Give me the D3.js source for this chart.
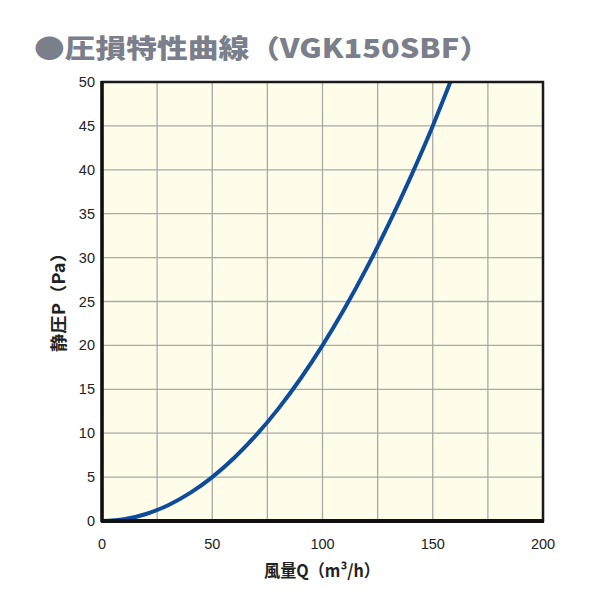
<!DOCTYPE html>
<html>
<head>
<meta charset="utf-8">
<script src="https://cdn.jsdelivr.net/npm/d3@7"></script>
<style>
  body { margin: 0; background: #fff; }
  text { font-family: "Liberation Sans", Arial, sans-serif; }
</style>
</head>
<body>
<div id="chart"></div>
<script>
// air flow Q (m3/h) and static pressure P (Pa)
const flowQ = [0, 10, 20, 30, 40, 50, 60, 70, 80, 90, 100, 110, 120, 130, 140, 150, 158];
const pressP = [0, 0.2, 0.8, 1.8, 3.2, 5, 7.2, 9.8, 12.8, 16.2, 20, 24.2, 28.8, 33.8, 39.2, 45, 50];

const xTicks = [0, 50, 100, 150, 200];
const xGrid = [25, 50, 75, 100, 125, 150, 175];
const yTicks = [0, 5, 10, 15, 20, 25, 30, 35, 40, 45, 50];

const W = 600, H = 600;
const margin = { top: 82, right: 57, bottom: 79, left: 102 };

const svg = d3.select("#chart").append("svg")
    .attr("width", W)
    .attr("height", H);

// title
svg.append("text")
    .attr("x", 34)
    .attr("y", 58)
    .attr("fill", "#7b7f8b")
    .style("font-family", "'Noto Sans CJK JP', sans-serif")
    .style("font-weight", 900)
    .style("font-size", "26px")
    .attr("textLength", 456)
    .attr("lengthAdjust", "spacingAndGlyphs")
    .text("●圧損特性曲線（VGK150SBF）");

const x = d3.scaleLinear().domain([0, 200]).range([margin.left, W - margin.right]);
const y = d3.scaleLinear().domain([0, 50]).range([H - margin.bottom, margin.top]);

// plot background
svg.append("rect")
    .attr("x", x(0))
    .attr("y", y(50))
    .attr("width", x(200) - x(0))
    .attr("height", y(0) - y(50))
    .attr("fill", "#fffde9");

// grid
svg.selectAll("line.vgrid")
    .data(xGrid)
    .enter()
    .append("line")
    .attr("class", "vgrid")
    .attr("x1", d => x(d)).attr("x2", d => x(d))
    .attr("y1", y(0)).attr("y2", y(50))
    .attr("stroke", "#a9a9a6")
    .attr("stroke-width", 1.3);

svg.selectAll("line.hgrid")
    .data(yTicks.slice(1, -1))
    .enter()
    .append("line")
    .attr("class", "hgrid")
    .attr("x1", x(0)).attr("x2", x(200))
    .attr("y1", d => y(d)).attr("y2", d => y(d))
    .attr("stroke", "#a9a9a6")
    .attr("stroke-width", 1.3);

// curve
const line = d3.line()
    .x((d, i) => x(flowQ[i]))
    .y(d => y(d))
    .curve(d3.curveMonotoneX);

svg.append("path")
    .datum(pressP)
    .attr("d", line)
    .attr("fill", "none")
    .attr("stroke", "#0d4c9c")
    .attr("stroke-width", 4);

// frame
svg.append("rect")
    .attr("x", x(0))
    .attr("y", y(50))
    .attr("width", x(200) - x(0))
    .attr("height", y(0) - y(50))
    .attr("fill", "none")
    .attr("stroke", "#1a1a1a")
    .attr("stroke-width", 2.5);

svg.append("line")
    .attr("x1", x(0) - 1).attr("x2", x(200) + 1)
    .attr("y1", y(0)).attr("y2", y(0))
    .attr("stroke", "#111")
    .attr("stroke-width", 4);

svg.append("line")
    .attr("x1", x(0)).attr("x2", x(0))
    .attr("y1", y(50) - 1).attr("y2", y(0) + 1)
    .attr("stroke", "#111")
    .attr("stroke-width", 3.5);

// tick labels
svg.selectAll("text.ylab")
    .data(yTicks)
    .enter()
    .append("text")
    .attr("class", "ylab")
    .attr("x", x(0) - 7)
    .attr("y", d => y(d) + 5)
    .attr("text-anchor", "end")
    .attr("fill", "#222")
    .style("font-size", "14.5px")
    .text(d => d);

svg.selectAll("text.xlab")
    .data(xTicks)
    .enter()
    .append("text")
    .attr("class", "xlab")
    .attr("x", d => x(d))
    .attr("y", y(0) + 28)
    .attr("text-anchor", "middle")
    .attr("fill", "#222")
    .style("font-size", "14.5px")
    .text(d => d);

// axis titles
svg.append("text")
    .attr("x", 322)
    .attr("y", 577)
    .attr("text-anchor", "middle")
    .attr("fill", "#222")
    .style("font-family", "'Noto Sans CJK JP', sans-serif")
    .style("font-weight", "bold")
    .style("font-size", "17px")
    .attr("textLength", 116)
    .attr("lengthAdjust", "spacingAndGlyphs")
    .text("風量Q（m³/h）");

svg.append("text")
    .attr("transform", "translate(65,298) rotate(-90)")
    .attr("text-anchor", "middle")
    .attr("fill", "#222")
    .style("font-family", "'Noto Sans CJK JP', sans-serif")
    .style("font-weight", "bold")
    .style("font-size", "17px")
    .attr("textLength", 108)
    .attr("lengthAdjust", "spacingAndGlyphs")
    .text("静圧P（Pa）");
</script>
</body>
</html>
